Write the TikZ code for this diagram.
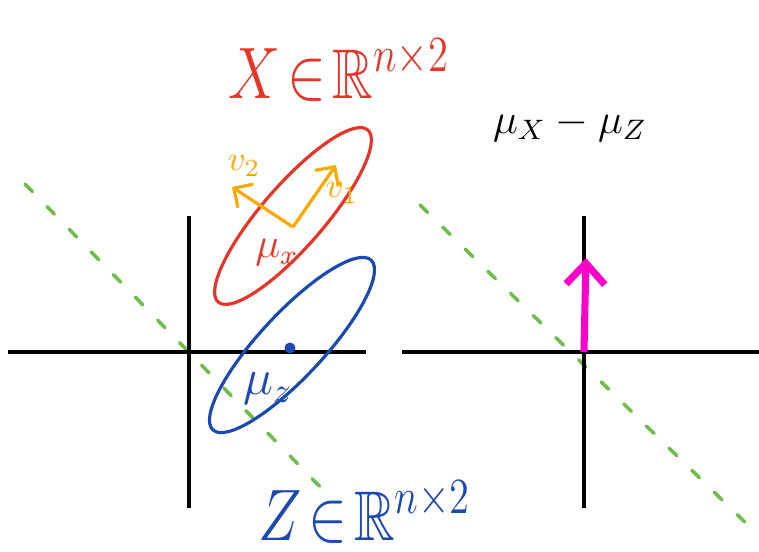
\documentclass[tikz,border=0pt]{standalone}
\usepackage{amsmath, amssymb}
\usetikzlibrary{arrows.meta}
\definecolor{penred}{RGB}{232,52,38}
\definecolor{penblue}{RGB}{28,72,178}
\definecolor{penorange}{RGB}{255,166,0}
\definecolor{pengreen}{RGB}{108,190,72}
\definecolor{penpink}{RGB}{255,0,204}
\tikzset{
  axisline/.style = {line width=1.2pt, black},
  projline/.style = {pengreen, line width=1pt, line cap=round,
                     dash pattern=on 3pt off 6pt},
  blob/.style     = {line width=0.9pt},
  eigarrow/.style = {-{Straight Barb[length=4pt,width=8pt]}, penorange, line width=0.9pt},
  diffarrow/.style= {-{Straight Barb[length=6pt,width=11pt]}, penpink, line width=2pt},
  bigset/.style   = {font=\fontsize{20}{24}\selectfont, inner sep=0pt},
}

\begin{document}
\begin{tikzpicture}[x=0.01cm, y=-0.01cm]
  \useasboundingbox (0,0) rectangle (759,552);

  % green projection lines
  \coordinate (gL1) at (25,184);
  \coordinate (gL2) at (330,497);
  \coordinate (gR1) at (420,205);
  \coordinate (gR2) at (756,533);
  \draw[projline] (gL1) -- (gL2);
  \draw[projline] (gR1) -- (gR2);

  % axes, left and right
  \foreach \nm/\ox/\xa/\xb in {L/189/8/366, R/584/402/759} {
    \coordinate (\nm w) at (\xa,352);
    \coordinate (\nm e) at (\xb,352);
    \coordinate (\nm n) at (\ox,216);
    \coordinate (\nm s) at (\ox,508);
    \coordinate (\nm o) at (\ox,352);
    \draw[axisline] (\nm w) -- (\nm e);
    \draw[axisline] (\nm n) -- (\nm s);
  }

  % the two clouds
  \coordinate (cx) at (293,216);
  \coordinate (cz) at (292,345);
  \draw[blob, penred, rotate around={49:(cx)}] (cx) ellipse [x radius=114, y radius=31];
  \draw[blob, penblue, rotate around={47:(cz)}] (cz) ellipse [x radius=116, y radius=32];

  % principal directions of X
  \coordinate (mx) at (293,227);
  \coordinate (vonetip) at (336,165);
  \coordinate (vtwotip) at (232,187);
  \draw[eigarrow] (mx) -- (vonetip);
  \draw[eigarrow] (mx) -- (vtwotip);
  \node[penorange] (vone) at (342,193) {$v_1$};
  \node[penorange] (vtwo) at (244,166) {$v_2$};

  % means
  \coordinate (mz) at (290,348);
  \fill[penblue] (mz) circle [radius=5.5];
  \node[penred, font=\large] (mux) at (277,253) {$\mu_x$};
  \node[penblue, font=\Large] (muz) at (268,389) {$\mu_z$};

  % set labels
  \node[penred, bigset] (xset) at (339,70)
    {\scalebox{0.8}[1]{$X\!\in\!\mathbb{R}^{n\times 2}$}};
  \node[penblue, bigset] (zset) at (365,512)
    {\scalebox{0.8}[1]{$Z\!\in\!\mathbb{R}^{n\times 2}$}};

  % difference of means
  \coordinate (dtip) at (586,258);
  \draw[diffarrow] (Ro) -- (dtip);
  \node[font=\large] (diff) at (570,125) {$\mu_X - \mu_Z$};

\end{tikzpicture}
\end{document}
